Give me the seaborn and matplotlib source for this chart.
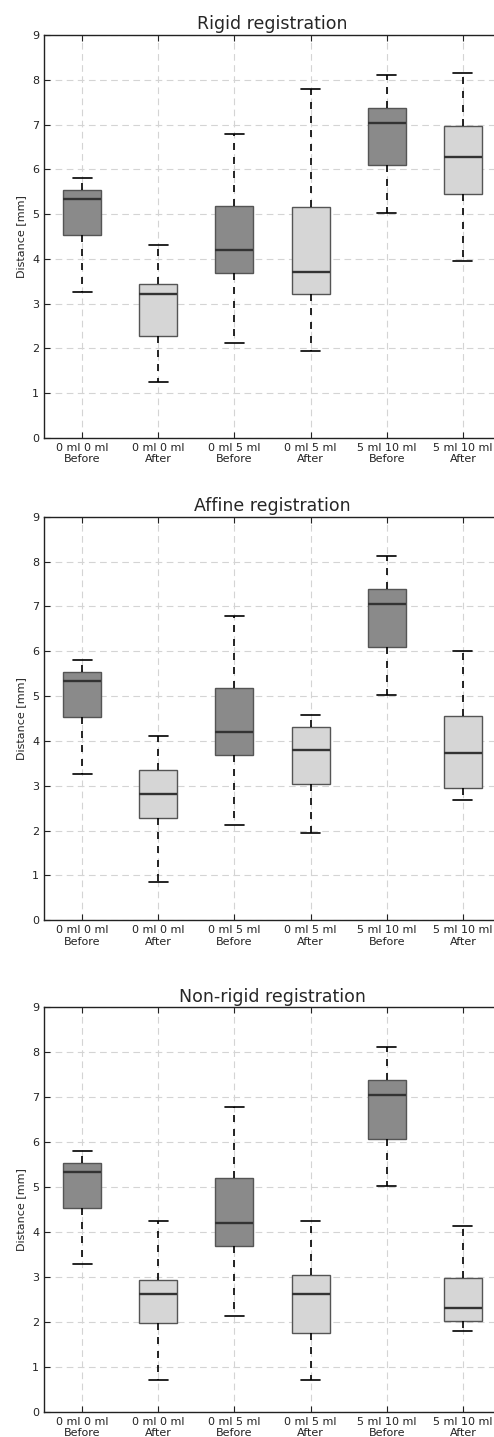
import matplotlib
matplotlib.use('Agg')
import matplotlib.pyplot as plt
import numpy as np
import pandas as pd
import seaborn as sns

sns.set_style('white')
plt.rcParams['font.family'] = ['DejaVu Sans']

# Grupos (etiquetas del eje x) y fase antes / despues
groups = ['0 ml 0 ml\nBefore', '0 ml 0 ml\nAfter', '0 ml 5 ml\nBefore',
          '0 ml 5 ml\nAfter', '5 ml 10 ml\nBefore', '5 ml 10 ml\nAfter']
phases = ['Before', 'After', 'Before', 'After', 'Before', 'After']

# Rigid registration
rigid_low = [3.27, 1.25, 2.13, 1.94, 5.02, 3.95]
rigid_q1 = [4.53, 2.27, 3.68, 3.22, 6.09, 5.45]
rigid_med = [5.34, 3.22, 4.19, 3.70, 7.04, 6.28]
rigid_q3 = [5.53, 3.44, 5.18, 5.16, 7.37, 6.96]
rigid_high = [5.80, 4.30, 6.78, 7.79, 8.11, 8.15]

# Affine registration
affine_low = [3.27, 0.86, 2.13, 1.94, 5.02, 2.68]
affine_q1 = [4.53, 2.29, 3.68, 3.03, 6.09, 2.96]
affine_med = [5.34, 2.82, 4.19, 3.80, 7.05, 3.74]
affine_q3 = [5.53, 3.36, 5.19, 4.32, 7.39, 4.56]
affine_high = [5.80, 4.12, 6.79, 4.57, 8.12, 6.00]

# Non-rigid registration
nonrigid_low = [3.28, 0.70, 2.13, 0.70, 5.02, 1.80]
nonrigid_q1 = [4.53, 1.98, 3.69, 1.76, 6.08, 2.02]
nonrigid_med = [5.34, 2.62, 4.19, 2.62, 7.05, 2.30]
nonrigid_q3 = [5.53, 2.92, 5.19, 3.05, 7.38, 2.97]
nonrigid_high = [5.81, 4.24, 6.79, 4.24, 8.11, 4.14]

titles = ['Rigid registration', 'Affine registration', 'Non-rigid registration']
colors = {'Before': '#8a8a8a', 'After': '#d6d6d6'}


# Con 5 valores por grupo, los cuartiles de la caja caen justo en q1/med/q3
def long_table(low, q1, med, q3, high):
    rows = []
    for g, p, vals in zip(groups, phases, zip(low, q1, med, q3, high)):
        for v in vals:
            rows.append({'group': g, 'phase': p, 'dist': v})
    return pd.DataFrame(rows)


tables = [long_table(rigid_low, rigid_q1, rigid_med, rigid_q3, rigid_high),
          long_table(affine_low, affine_q1, affine_med, affine_q3, affine_high),
          long_table(nonrigid_low, nonrigid_q1, nonrigid_med, nonrigid_q3, nonrigid_high)]

fig = plt.figure(figsize=(4.94, 14.37), dpi=100)
W, H = 494.0, 1437.0
# (y del 9, y del 0) en pixeles para cada panel
panel_px = [(35, 438), (516.7, 920.3), (1007.3, 1411.7)]

for df, title, (ytop, ybot) in zip(tables, titles, panel_px):
    ax = fig.add_axes([44 / W, 1 - ybot / H, (501 - 44) / W, (ybot - ytop) / H])
    sns.boxplot(data=df, x='group', y='dist', hue='phase', palette=colors,
                dodge=False, width=0.5, whis=(0, 100), linecolor='#555555',
                linewidth=1, legend=False, ax=ax,
                whiskerprops=dict(color='black', linewidth=1.2,
                                  linestyle='--', dashes=(4.2, 4.2)),
                capprops=dict(color='black', linewidth=1.2),
                medianprops=dict(color='#333333', linewidth=1.7))
    ax.set_ylim(0, 9)
    ax.set_xlim(-0.5, 5.5)
    ax.set_yticks(range(10))
    ax.set_axisbelow(True)
    ax.grid(True, linestyle=(0, (6, 4)), color='#d4d4d4', linewidth=0.8)
    for s in ax.spines.values():
        s.set_color('#222222')
        s.set_linewidth(1)
    ax.tick_params(direction='in', length=4, labelsize=8, colors='#222222',
                   top=True, left=True, bottom=True)
    ax.set_xlabel('')
    ax.set_ylabel('Distance [mm]', fontsize=8, color='#222222')
    ax.set_title(title, fontsize=12.5, pad=4)

fig.savefig('out.png', dpi=100)
